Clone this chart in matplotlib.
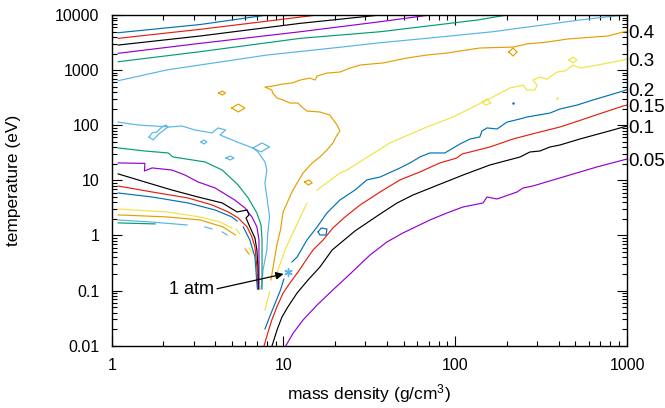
import matplotlib
matplotlib.use('Agg')
import matplotlib.pyplot as plt
from matplotlib.ticker import LogLocator, FuncFormatter, NullFormatter

# gnuplot default line colours
P, G, LB, O = '#9400d3', '#009e73', '#56b4e9', '#e69f00'
Y, B, R, K = '#f0e442', '#0072b2', '#e51e10', 'black'

# contour traces: mass density (g/cm3), temperature (eV)
lb_top_x = [1.09, 2.1, 3.27, 8.02, 19.4, 36.5, 68.4, 166, 532, 947]
lb_top_t = [643, 1010, 1240, 1880, 2520, 3140, 3780, 4980, 8120, 10000]
g_top_x = [1.09, 3.27, 12.5, 36.5, 134, 200]
g_top_t = [1420, 2160, 3770, 4970, 8100, 10000]
p_top_x = [1.09, 3.27, 12.5, 36.5, 71.2]
p_top_t = [2020, 3060, 4970, 7550, 10000]
k_top_x = [1.09, 3.27, 12.5, 36.5]
k_top_t = [2850, 4160, 7060, 10000]
r_top_x = [1.09, 3.27, 7.3, 15.7]
r_top_t = [3770, 5500, 7460, 10000]
b_top_x = [1.09, 3.27, 8.02]
b_top_t = [4770, 6720, 10000]

o_main_x = [8.45, 8.8, 9.15, 9.6, 9.95, 11.2, 12.0, 13.0, 14.7, 16.3, 17.9, 19.4, 20.5,
            21.3, 20.5, 18.6, 16.3, 13.7, 12.8, 12.15, 10.9, 9.95, 9.15, 8.65, 8.55, 7.8,
            8.65, 9.95, 11.2, 12.5, 14.25, 15.25, 15.7, 17.9, 21.3, 24.4, 28.0, 38.0, 52.4,
            68.5, 89.5, 106, 139, 217, 261, 342, 452, 633, 775, 947, 1000]
o_main_t = [0.156, 0.33, 0.67, 1.26, 2.67, 6.15, 8.95, 13.6, 20.7, 26.6, 35.6, 47.7, 66.6,
            78.7, 101, 153, 174, 181, 214, 253, 253, 287, 312, 384, 435, 493,
            514, 560, 583, 660, 718, 660, 780, 885, 923, 1090, 1240, 1350, 1660,
            1880, 2040, 2220, 2520, 2620, 2980, 3230, 3670, 3980, 4160, 4910, 5020]
o_loop1_x = [205, 217, 229, 217, 205]
o_loop1_t = [2130, 2520, 2130, 1800, 2130]
o_loop2_x = [5.0, 5.45, 5.97, 5.45, 5.0]
o_loop2_t = [205, 242, 205, 174, 205]
o_loop3_x = [4.2, 4.4, 4.6, 4.4, 4.2]
o_loop3_t = [384, 417, 384, 353, 384]
o_loop4_x = [13.3, 14.1, 14.7, 13.9, 13.3]
o_loop4_t = [9.35, 10.2, 8.95, 8.25, 9.35]
o_left_x = [1.09, 2.1, 3.27, 4.44, 5.25]
o_left_t = [2.36, 2.17, 1.91, 1.43, 1.02]
o_dash_x = [5.97, 6.3]
o_dash_t = [0.57, 0.46]

y_seg_x = [8.95, 10.2, 11.7, 13.7]
y_seg_t = [0.169, 0.546, 1.37, 3.89]
y_main_x = [15.7, 21.3, 23.45, 41.6, 68.5, 97, 127, 153, 208, 248, 261, 291, 299, 283, 311,
            342, 391, 435, 485, 532, 725, 947, 1000]
y_main_t = [6.68, 13.6, 15.4, 47.7, 93, 141, 214, 287, 473, 536, 435, 435, 536, 660, 749,
            688, 923, 962, 1240, 1090, 1290, 1520, 1590]
y_loop1_x = [459, 485, 511, 485, 459]
y_loop1_t = [1520, 1730, 1520, 1350, 1520]
y_loop2_x = [143, 153, 161, 151, 143]
y_loop2_t = [263, 299, 253, 232, 263]
y_left_x = [1.09, 2.1, 3.27, 4.27, 5.0]
y_left_t = [3.02, 2.67, 2.17, 1.76, 1.37]
y_dash1_x, y_dash1_t = [5.3, 5.58], [1.31, 1.06]
y_dash2_x, y_dash2_t = [6.3, 6.55], [0.59, 0.48]
y_dash3_x, y_dash3_t = [7.8, 8.3], [0.0444, 0.0942]

lb_low_x = [1.09, 1.42, 2.18, 2.56, 3.05, 3.84, 4.16, 4.6, 4.27, 5.37, 6.63, 7.1, 7.8, 8.0,
            7.8, 8.0, 8.3, 8.1, 8.0, 7.6, 7.5, 7.4]
lb_low_t = [114, 101, 93, 97, 82, 72.4, 89.4, 82, 66.6, 49.7, 38.7, 32.8, 21.6, 15.4,
            8.95, 4.99, 2.17, 1.11, 0.546, 0.236, 0.143, 0.107]
lb_loop1_x = [1.65, 1.74, 1.91, 2.13, 2.07, 1.96, 1.83, 1.72, 1.65]
lb_loop1_t = [61.3, 54.1, 72.4, 93, 101, 93, 75.4, 72.4, 61.3]
lb_loop2_x = [6.63, 7.5, 8.3, 7.4, 6.63]
lb_loop2_t = [38.7, 47.7, 40.3, 32.8, 38.7]
lb_loop3_x = [3.31, 3.44, 3.58, 3.44, 3.31]
lb_loop3_t = [49.7, 54.1, 49.7, 45.7, 49.7]
lb_loop4_x = [4.63, 4.9, 5.15, 4.9, 4.63]
lb_loop4_t = [25.5, 27.7, 25.5, 23.4, 25.5]
lb_left_x = [1.09, 1.67, 2.75]
lb_left_t = [1.91, 1.76, 1.55]
lb_dash1_x, lb_dash1_t = [3.49, 3.84], [1.43, 1.31]
lb_dash2_x, lb_dash2_t = [4.4, 4.7], [1.16, 1.02]

g_low_x = [1.09, 1.56, 2.13, 2.27, 3.49, 4.4, 5.44, 6.23, 7.0, 7.4, 7.5, 7.5, 7.5]
g_low_t = [38.7, 34.1, 31.4, 26.6, 21.6, 15.4, 8.25, 4.79, 2.56, 1.55, 0.829, 0.359, 0.107]
g_left_x, g_left_t = [1.09, 1.79], [1.69, 1.62]

p_low_x = [1.09, 1.56, 1.55, 1.72, 2.24, 2.67, 3.18, 4.0, 5.2, 5.97, 6.55, 7.0, 7.2, 7.2, 7.2]
p_low_t = [20.7, 20.3, 14.8, 16.8, 15.4, 12.5, 9.35, 7.28, 4.4, 3.15, 2.17, 1.43, 0.829,
           0.359, 0.107]
k_low_x = [1.09, 1.56, 2.24, 3.18, 4.4, 5.37, 6.14, 6.3, 6.05, 6.37, 6.82, 7.0, 7.1, 7.15]
k_low_t = [13.1, 9.35, 6.68, 4.99, 3.89, 2.67, 2.9, 2.36, 2.08, 1.43, 0.899, 0.546, 0.268,
           0.107]
r_low_x = [1.09, 1.72, 2.78, 3.84, 4.77, 5.44, 6.14, 6.55, 6.82, 7.0, 7.1]
r_low_t = [7.9, 6.15, 4.79, 3.58, 2.67, 2.08, 1.43, 0.94, 0.619, 0.268, 0.107]
b_low1_x = [1.09, 1.72, 2.78, 4.0, 5.0, 5.37]
b_low1_t = [5.9, 4.99, 3.89, 2.9, 2.17, 1.83]
b_low2_x = [5.83, 6.37, 6.82, 7.0, 7.05]
b_low2_t = [1.43, 0.829, 0.407, 0.137, 0.107]

b_right1_x = [7.8, 8.3, 8.95, 9.6, 10.05]
b_right1_t = [0.0201, 0.0332, 0.0595, 0.102, 0.162]
b_right2_x = [11.2, 12.0, 13.7, 15.7, 17.9, 21.3, 26.1, 30.6, 36.5, 47.7, 54.5, 62.3, 71.2,
              87, 106.5, 122, 139, 143, 153, 175, 200, 238, 261, 355, 407, 511, 633, 947, 1000]
b_right2_t = [0.33, 0.407, 0.829, 1.43, 2.56, 4.4, 6.68, 10.2, 11.5, 16.8, 20.7, 26.6, 31.4,
              31.4, 45.7, 56.3, 61.3, 78.7, 89.4, 85.5, 114, 130, 141, 166, 197, 232, 287,
              417, 444]
b_loop_x = [15.9, 16.6, 17.9, 17.7, 16.3, 15.9]
b_loop_t = [1.16, 1.37, 1.31, 1.02, 1.02, 1.16]
r_right_x = [7.7, 8.1, 8.55, 9.15, 9.95, 10.9, 12.15, 13.3, 14.85, 17.0, 19.4, 22.8, 27.9,
             36.5, 47.7, 62.3, 81.4, 102, 109.5, 122, 159, 217, 311, 407, 485, 695, 947, 1000]
r_right_t = [0.00988, 0.017, 0.0293, 0.0504, 0.0905, 0.137, 0.217, 0.33, 0.545, 0.828, 1.37,
             2.16, 3.57, 6.15, 10.2, 14.2, 20.7, 25.4, 30.1, 32.7, 40.3, 56.3, 75.4, 92.9,
             111, 162, 223, 233]
k_right_x = [8.57, 9.17, 9.8, 10.6, 12.0, 13.9, 16.3, 19.2, 26.1, 36.5, 45.8, 56.7, 79.3, 111,
             159, 238, 272, 311, 356, 407, 532, 828, 1000]
k_right_t = [0.00988, 0.0193, 0.0332, 0.0504, 0.0905, 0.156, 0.268, 0.545, 1.21, 2.45, 3.88,
             5.42, 8.24, 12.5, 19.0, 26.5, 32.7, 34.1, 40.3, 43.8, 56.3, 82.0, 96.9]
p_right_x = [10.3, 11.4, 13.0, 15.7, 19.4, 24.4, 31.9, 40.0, 49.6, 71.2, 89.5, 111, 145, 153,
             175, 229, 248, 283, 424, 668, 1000]
p_right_t = [0.00988, 0.017, 0.0293, 0.0548, 0.103, 0.2, 0.442, 0.762, 1.11, 1.91, 2.56, 3.29,
             3.88, 4.99, 4.59, 6.15, 7.27, 7.9, 11.5, 17.5, 24.4]

# isolated specks
speck_x = [391, 217]
speck_t = [312, 253]
speck_c = [Y, B]
star_x, star_t = 10.6, 0.217

# contour labels at the right edge, with the trace each one belongs to
level_labels = ['0.4', '0.3', '0.2', '0.15', '0.1', '0.05']
level_end_t = [o_main_t[-1], y_main_t[-1], b_right2_t[-1], r_right_t[-1], k_right_t[-1], p_right_t[-1]]

atm_text = '1 atm'
atm_from = (3.95, 0.105)
atm_to = (10.0, 0.2)

traces = [
    (lb_top_x, lb_top_t, LB), (g_top_x, g_top_t, G), (p_top_x, p_top_t, P),
    (k_top_x, k_top_t, K), (r_top_x, r_top_t, R), (b_top_x, b_top_t, B),
    (o_main_x, o_main_t, O), (o_loop1_x, o_loop1_t, O), (o_loop2_x, o_loop2_t, O),
    (o_loop3_x, o_loop3_t, O), (o_loop4_x, o_loop4_t, O), (o_left_x, o_left_t, O),
    (o_dash_x, o_dash_t, O),
    (y_seg_x, y_seg_t, Y), (y_main_x, y_main_t, Y), (y_loop1_x, y_loop1_t, Y),
    (y_loop2_x, y_loop2_t, Y), (y_left_x, y_left_t, Y), (y_dash1_x, y_dash1_t, Y),
    (y_dash2_x, y_dash2_t, Y), (y_dash3_x, y_dash3_t, Y),
    (lb_low_x, lb_low_t, LB), (lb_loop1_x, lb_loop1_t, LB), (lb_loop2_x, lb_loop2_t, LB),
    (lb_loop3_x, lb_loop3_t, LB), (lb_loop4_x, lb_loop4_t, LB), (lb_left_x, lb_left_t, LB),
    (lb_dash1_x, lb_dash1_t, LB), (lb_dash2_x, lb_dash2_t, LB),
    (g_low_x, g_low_t, G), (g_left_x, g_left_t, G),
    (p_low_x, p_low_t, P), (k_low_x, k_low_t, K), (r_low_x, r_low_t, R),
    (b_low1_x, b_low1_t, B), (b_low2_x, b_low2_t, B),
    (b_right1_x, b_right1_t, B), (b_right2_x, b_right2_t, B), (b_loop_x, b_loop_t, B),
    (r_right_x, r_right_t, R), (k_right_x, k_right_t, K), (p_right_x, p_right_t, P),
]

plt.rcParams['font.family'] = ['Liberation Sans', 'DejaVu Sans']
plt.rcParams['mathtext.fontset'] = 'custom'
plt.rcParams['mathtext.rm'] = 'Liberation Sans'
plt.rcParams['mathtext.default'] = 'regular'

fig = plt.figure(figsize=(6.65, 4.08), dpi=100)
ax = fig.add_axes([0.168, 0.1527, 0.7749, 0.8105])
ax.set_xscale('log')
ax.set_yscale('log')

for xs, ts, c in traces:
    ax.plot(xs, ts, color=c, lw=0.85)
for sx, st, sc in zip(speck_x, speck_t, speck_c):
    ax.plot(sx, st, 'o', color=sc, ms=1.8, mew=0)
ax.plot(star_x, star_t, marker=(6, 2, 0), color=LB, ms=6, mew=1)

ax.annotate(atm_text, xy=atm_to, xytext=atm_from, ha='right', va='center', fontsize=13,
            arrowprops=dict(arrowstyle='-|>', color='black', lw=0.9, shrinkA=0, shrinkB=0,
                            mutation_scale=11, relpos=(1.0, 0.5)))

for lab, tv in zip(level_labels, level_end_t):
    ax.annotate(lab, xy=(1.0, tv), xycoords=('axes fraction', 'data'), xytext=(1, -1.5),
                textcoords='offset points', ha='left', va='center', fontsize=13.5,
                annotation_clip=False)

ax.set_xlim(1, 1000)
ax.set_ylim(0.01, 10000)
fmt = FuncFormatter(lambda v, _: '%g' % v)
for axis in (ax.xaxis, ax.yaxis):
    axis.set_major_locator(LogLocator(base=10, numticks=20))
    axis.set_minor_locator(LogLocator(base=10, subs=range(2, 10), numticks=100))
    axis.set_major_formatter(fmt)
    axis.set_minor_formatter(NullFormatter())
ax.tick_params(which='both', direction='in', top=True, right=True, width=0.8,
               labelsize=11.5, colors='black')
ax.tick_params(which='major', length=7, pad=9)
ax.tick_params(which='minor', length=3.5)
for s in ax.spines.values():
    s.set_linewidth(1.0)

ax.set_xlabel('mass density (g/cm$^3$)', fontsize=12.5)
ax.set_ylabel('temperature (eV)', fontsize=12.5)
ax.xaxis.set_label_coords(0.5, -0.11)
ax.yaxis.set_label_coords(-0.176, 0.5)

fig.savefig('out.png')
